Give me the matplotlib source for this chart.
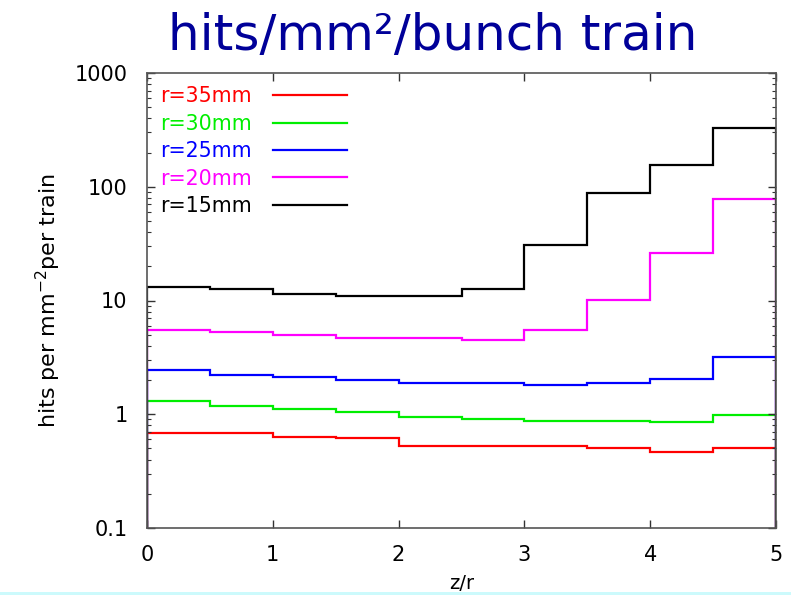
import numpy as np
import matplotlib.pyplot as plt
from matplotlib.ticker import LogLocator, FuncFormatter, NullFormatter

# bin edges in z/r and hits per mm^2 per train for each radius
edges = np.arange(0, 5.01, 0.5)
labels = ['r=35mm', 'r=30mm', 'r=25mm', 'r=20mm', 'r=15mm']
colors = ['#ff0000', '#00ee00', '#0000ff', '#ff00ff', '#000000']
r35 = [0.69, 0.69, 0.63, 0.62, 0.53, 0.53, 0.53, 0.50, 0.47, 0.51]
r30 = [1.32, 1.19, 1.11, 1.04, 0.95, 0.91, 0.88, 0.88, 0.86, 0.99]
r25 = [2.44, 2.22, 2.14, 1.99, 1.87, 1.90, 1.82, 1.88, 2.03, 3.19]
r20 = [5.55, 5.26, 4.95, 4.69, 4.67, 4.54, 5.51, 10.2, 25.9, 78.7]
r15 = [13.1, 12.5, 11.4, 11.0, 11.0, 12.6, 30.6, 89.0, 155.0, 329.0]
series = [r35, r30, r25, r20, r15]

plt.rcParams['font.family'] = 'DejaVu Sans'

fig = plt.figure(figsize=(7.91, 5.95), dpi=100)
ax = fig.add_axes([147/791, 1-528/595, (776-147)/791, (528-73)/595])

for vals, lab, c in zip(series, labels, colors):
    ax.stairs(vals, edges, baseline=1e-4, color=c, lw=1.6, label=lab)

ax.set_yscale('log')
ax.set_ylim(0.1, 1000)
ax.set_xlim(0, 5)
ax.yaxis.set_major_locator(LogLocator(base=10, numticks=10))
ax.yaxis.set_minor_locator(LogLocator(base=10, subs=np.arange(2, 10), numticks=20))
ax.yaxis.set_major_formatter(FuncFormatter(lambda v, p: '%g' % v))
ax.yaxis.set_minor_formatter(NullFormatter())
ax.set_xticks([0, 1, 2, 3, 4, 5])

ax.tick_params(which='both', direction='in', top=True, right=True,
               labelsize=15, color='#333333')
ax.tick_params(which='major', length=6, width=1)
ax.tick_params(which='minor', length=3, width=0.8)
ax.tick_params(axis='y', pad=14)
ax.tick_params(axis='x', pad=12)
for s in ax.spines.values():
    s.set_color('#555555')
    s.set_linewidth(1.2)

ax.set_ylabel('hits per mm$^{-2}$per train', fontsize=16, labelpad=8)
ax.set_xlabel('z/r', fontsize=14, labelpad=7)

ax.legend(loc='upper left', bbox_to_anchor=(0.0, 1.0), markerfirst=False,
          labelcolor='linecolor', frameon=False, fontsize=14.8,
          handlelength=3.6, handletextpad=1.0, labelspacing=0.36,
          borderaxespad=0.4, borderpad=0.25)

fig.text(433/791, 1-50/595, 'hits/mm\u00b2/bunch train', color='#000099',
         fontsize=36, ha='center', va='baseline')

# slide background strip at the bottom
fig.patches.append(plt.Rectangle((0, 0), 1, 3/595, transform=fig.transFigure,
                                 facecolor='#ccfafc', edgecolor='none', zorder=10))

fig.savefig('out.png', dpi=100)
